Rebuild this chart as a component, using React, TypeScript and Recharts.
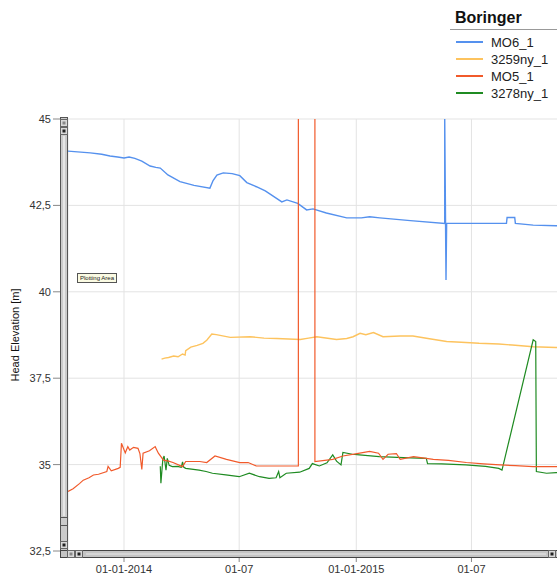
import { CartesianGrid, Line, LineChart, XAxis, YAxis } from "recharts"

const BASE = Date.UTC(2014, 0, 1)
const day = (s: string) => (Date.parse(s) - BASE) / 86400000

const xDomain = ["2013-10-05", "2016-02-10"]
const xTickDates = ["2014-01-01", "2014-07-01", "2015-01-01", "2015-07-01"]
const xTickLabels = ["01-01-2014", "01-07", "01-01-2015", "01-07"]
const yTicks = [32.5, 35, 37.5, 40, 42.5, 45]

const mo6Dates = [
  "2013-10-05", "2013-11-09", "2013-11-27", "2013-12-10", "2013-12-22", "2014-01-01", "2014-01-09",
  "2014-01-18", "2014-01-29", "2014-02-11", "2014-02-20", "2014-02-27", "2014-03-11", "2014-03-30",
  "2014-04-21", "2014-05-16", "2014-05-21", "2014-05-27", "2014-06-06", "2014-06-20", "2014-07-02",
  "2014-07-13", "2014-07-28", "2014-08-11", "2014-08-24", "2014-09-06", "2014-09-14", "2014-10-01",
  "2014-10-15", "2014-10-25", "2014-11-15", "2014-12-17", "2015-01-09", "2015-01-22", "2015-02-07",
  "2015-03-27", "2015-05-20", "2015-05-20", "2015-05-22", "2015-05-23", "2015-08-25", "2015-08-26",
  "2015-09-07", "2015-09-08", "2015-10-06", "2015-11-11", "2015-12-02",
]
const mo6Values = [
  44.07, 44.02, 43.98, 43.93, 43.9, 43.87, 43.9,
  43.86, 43.78, 43.64, 43.6, 43.58, 43.38, 43.19,
  43.08, 43.0, 43.22, 43.38, 43.44, 43.42, 43.36,
  43.16, 43.04, 42.92, 42.76, 42.6, 42.66, 42.56,
  42.37, 42.4, 42.28, 42.14, 42.14, 42.17, 42.14,
  42.06, 41.98, 45.0, 40.34, 41.98, 41.98, 42.15,
  42.15, 41.98, 41.93, 41.91, 41.9,
]

const y3259Dates = [
  "2014-03-01", "2014-03-06", "2014-03-12", "2014-03-20", "2014-03-27", "2014-04-03", "2014-04-07",
  "2014-04-08", "2014-04-16", "2014-04-26", "2014-05-05", "2014-05-11", "2014-05-19", "2014-05-26",
  "2014-06-17", "2014-07-18", "2014-08-09", "2014-08-29", "2014-10-05", "2014-10-18", "2014-10-31",
  "2014-12-01", "2014-12-17", "2014-12-27", "2015-01-07", "2015-01-16", "2015-01-28", "2015-02-12",
  "2015-03-11", "2015-03-31", "2015-04-26", "2015-05-23", "2015-06-15", "2015-07-13", "2015-08-13",
  "2015-09-03", "2015-10-06", "2015-11-11", "2015-12-02",
]
const y3259Values = [
  38.05, 38.08, 38.1, 38.14, 38.12, 38.2, 38.17,
  38.3, 38.4, 38.45, 38.51, 38.6, 38.78, 38.76,
  38.68, 38.7, 38.66, 38.65, 38.62, 38.66, 38.7,
  38.62, 38.65, 38.7, 38.8, 38.76, 38.82, 38.7,
  38.72, 38.72, 38.64, 38.56, 38.54, 38.51, 38.49,
  38.46, 38.41, 38.39, 38.38,
]

const mo5Dates = [
  "2013-10-05", "2013-10-13", "2013-10-23", "2013-10-29", "2013-11-07", "2013-11-14", "2013-11-22",
  "2013-12-05", "2013-12-07", "2013-12-12", "2013-12-23", "2013-12-26", "2013-12-28", "2014-01-03",
  "2014-01-07", "2014-01-10", "2014-01-16", "2014-01-23", "2014-01-26", "2014-01-29", "2014-01-31",
  "2014-02-10", "2014-02-19", "2014-02-24", "2014-03-04", "2014-03-12", "2014-03-19", "2014-04-03",
  "2014-04-08", "2014-04-30", "2014-05-11", "2014-05-24", "2014-06-11", "2014-07-02", "2014-07-15",
  "2014-07-28", "2014-10-02", "2014-10-02", "2014-10-28", "2014-10-28", "2014-11-25", "2014-12-11",
  "2015-01-02", "2015-01-22", "2015-02-05", "2015-02-12", "2015-02-20", "2015-03-05", "2015-03-11",
  "2015-04-01", "2015-05-02", "2015-05-26", "2015-06-23", "2015-07-20", "2015-08-15", "2015-09-08",
  "2015-10-06", "2015-11-09", "2015-12-02",
]
const mo5Values = [
  34.22, 34.3, 34.45, 34.55, 34.62, 34.7, 34.72,
  34.8, 34.95, 34.82, 34.89, 34.92, 35.62, 35.34,
  35.52, 35.42, 35.5, 35.47, 35.32, 34.86, 35.33,
  35.4, 35.52, 35.33, 35.13, 35.1, 35.06, 34.94,
  35.09, 35.09, 35.06, 35.25, 35.15, 35.06, 35.06,
  34.96, 34.96, 60, 60, 35.09, 35.15, 35.25,
  35.32, 35.38, 35.33, 35.15, 35.3, 35.32, 35.15,
  35.23, 35.15, 35.12, 35.06, 35.02, 34.99, 34.97,
  34.94, 34.94, 34.95,
]

const y3278Dates = [
  "2014-02-27", "2014-02-28", "2014-03-03", "2014-03-05", "2014-03-08", "2014-03-10", "2014-03-13",
  "2014-03-18", "2014-03-26", "2014-04-01", "2014-04-03", "2014-04-05", "2014-04-08", "2014-04-29",
  "2014-05-10", "2014-05-20", "2014-06-10", "2014-07-01", "2014-07-17", "2014-08-02", "2014-08-17",
  "2014-08-28", "2014-09-01", "2014-09-03", "2014-09-13", "2014-10-04", "2014-10-19", "2014-10-24",
  "2014-11-04", "2014-11-16", "2014-11-25", "2014-12-01", "2014-12-08", "2014-12-11", "2014-12-26",
  "2015-01-06", "2015-02-06", "2015-03-16", "2015-04-21", "2015-04-23", "2015-05-15", "2015-06-22",
  "2015-07-23", "2015-08-13", "2015-08-18", "2015-10-06", "2015-10-10", "2015-10-11", "2015-10-27",
  "2015-11-11", "2015-12-02",
]
const y3278Values = [
  34.95, 34.46, 35.15, 35.25, 34.84, 35.18, 34.98,
  34.94, 34.95, 34.92, 35.08, 34.92, 34.89, 34.84,
  34.8, 34.75, 34.7, 34.65, 34.75, 34.65, 34.6,
  34.62, 34.8, 34.62, 34.75, 34.78, 34.89, 35.03,
  34.96, 35.05, 35.28, 35.1, 34.99, 35.35, 35.3,
  35.28, 35.23, 35.2, 35.18, 35.03, 35.02, 34.99,
  34.95, 34.89, 34.84, 38.61, 38.56, 34.8, 34.75,
  34.77, 34.78,
]

const series = [
  { name: "MO6_1", color: "#5591ee", width: 1.4, dates: mo6Dates, values: mo6Values },
  { name: "3259ny_1", color: "#fdc35e", width: 1.4, dates: y3259Dates, values: y3259Values },
  { name: "MO5_1", color: "#f15a2b", width: 1.2, dates: mo5Dates, values: mo5Values },
  { name: "3278ny_1", color: "#1f8b22", width: 1.2, dates: y3278Dates, values: y3278Values },
]
const drawOrder = [0, 1, 3, 2]

const FONT = "'Liberation Sans', Arial, sans-serif"

function Scrollbars() {
  return (
    <svg width={557} height={583} style={{ position: "absolute", left: 0, top: 0, pointerEvents: "none" }}>
      {/* vertical scrollbar */}
      <rect x={60.5} y={117.5} width={7} height={433} fill="#cbcbcb" stroke="#555" />
      <line x1={64} y1={136} x2={64} y2={516} stroke="#e6e6e6" strokeWidth={2} />
      <rect x={60.5} y={119.5} width={7} height={7} fill="#d9d9d9" stroke="#666" />
      <rect x={62.5} y={121.5} width={3} height={3} fill="#888" />
      <rect x={60.5} y={127.5} width={7} height={7} fill="#d9d9d9" stroke="#666" />
      <rect x={62.5} y={129.5} width={3} height={3} fill="#222" />
      <line x1={60} y1={517.5} x2={68} y2={517.5} stroke="#555" />
      <line x1={60} y1={525.5} x2={68} y2={525.5} stroke="#555" />
      <rect x={60.5} y={541.5} width={7} height={7} fill="#d9d9d9" stroke="#666" />
      <rect x={62.5} y={543.5} width={3} height={3} fill="#222" />
      {/* horizontal scrollbar */}
      <rect x={60.5} y={550.5} width={500} height={7} fill="#c4c4c4" stroke="#444" />
      <line x1={86} y1={554} x2={546} y2={554} stroke="#d6d6d6" strokeWidth={2} />
      <rect x={67.5} y={550.5} width={7} height={7} fill="#d9d9d9" stroke="#666" />
      <rect x={69.5} y={552.5} width={3} height={3} fill="#888" />
      <rect x={75.5} y={550.5} width={7} height={7} fill="#d9d9d9" stroke="#666" />
      <rect x={77.5} y={552.5} width={3} height={3} fill="#222" />
      <rect x={548.5} y={550.5} width={7} height={7} fill="#d9d9d9" stroke="#666" />
      <rect x={550.5} y={552.5} width={3} height={3} fill="#222" />
    </svg>
  )
}

export default function App() {
  return (
    <div
      style={{
        position: "fixed",
        left: 0,
        top: 0,
        width: 557,
        height: 583,
        overflow: "hidden",
        background: "#fff",
        fontFamily: FONT,
      }}
    >
      <LineChart width={620} height={583} margin={{ top: 119, right: 6, bottom: 2, left: 8 }}>
        <CartesianGrid stroke="#e3e3e3" />
        <XAxis
          type="number"
          dataKey="t"
          domain={[day(xDomain[0]), day(xDomain[1])]}
          ticks={xTickDates.map(day)}
          tickFormatter={(v) => xTickLabels[xTickDates.map(day).indexOf(v)] ?? ""}
          allowDataOverflow
          axisLine={false}
          tickLine={{ stroke: "#888" }}
          tickSize={11}
          tickMargin={3}
          height={30}
          tick={{ fill: "#333", fontSize: 11, fontFamily: FONT }}
        />
        <YAxis
          type="number"
          domain={[32.5, 45]}
          ticks={yTicks}
          allowDataOverflow
          tickFormatter={(v) => String(v).replace(".", ",")}
          axisLine={false}
          tickLine={{ stroke: "#888" }}
          tickSize={15}
          tickMargin={2}
          width={60}
          tick={{ fill: "#333", fontSize: 11, fontFamily: FONT }}
          label={{
            value: "Head Elevation [m]",
            angle: -90,
            position: "insideLeft",
            offset: 7,
            style: { textAnchor: "middle", fontSize: 11, fill: "#111", fontFamily: FONT },
          }}
        />
        {drawOrder.map((i) => {
          const s = series[i]
          return (
            <Line
              key={s.name}
              data={s.dates.map((d, j) => ({ t: day(d), v: s.values[j] }))}
              dataKey="v"
              name={s.name}
              stroke={s.color}
              strokeWidth={s.width}
              type="linear"
              dot={false}
              isAnimationActive={false}
            />
          )
        })}
      </LineChart>

      <Scrollbars />

      <div
        style={{
          position: "absolute",
          left: 77,
          top: 273,
          width: 38,
          height: 8,
          border: "1px solid #555",
          background: "#fbfbe3",
          fontSize: 6,
          lineHeight: "8px",
          textAlign: "center",
          color: "#222",
          whiteSpace: "nowrap",
        }}
      >
        Plotting Area
      </div>

      <div style={{ position: "absolute", left: 455, top: 9, fontWeight: "bold", fontSize: 16, color: "#111" }}>
        Boringer
      </div>
      <div style={{ position: "absolute", left: 450, top: 29, width: 107, height: 1, background: "#999" }} />
      {series.map((s, i) => (
        <div
          key={s.name}
          style={{
            position: "absolute",
            left: 456,
            top: 34 + i * 17,
            height: 16,
            display: "flex",
            alignItems: "center",
            fontSize: 13,
            color: "#222",
            whiteSpace: "nowrap",
          }}
        >
          <span style={{ display: "inline-block", width: 27, height: 2, background: s.color, marginRight: 8 }} />
          {s.name}
        </div>
      ))}
    </div>
  )
}
